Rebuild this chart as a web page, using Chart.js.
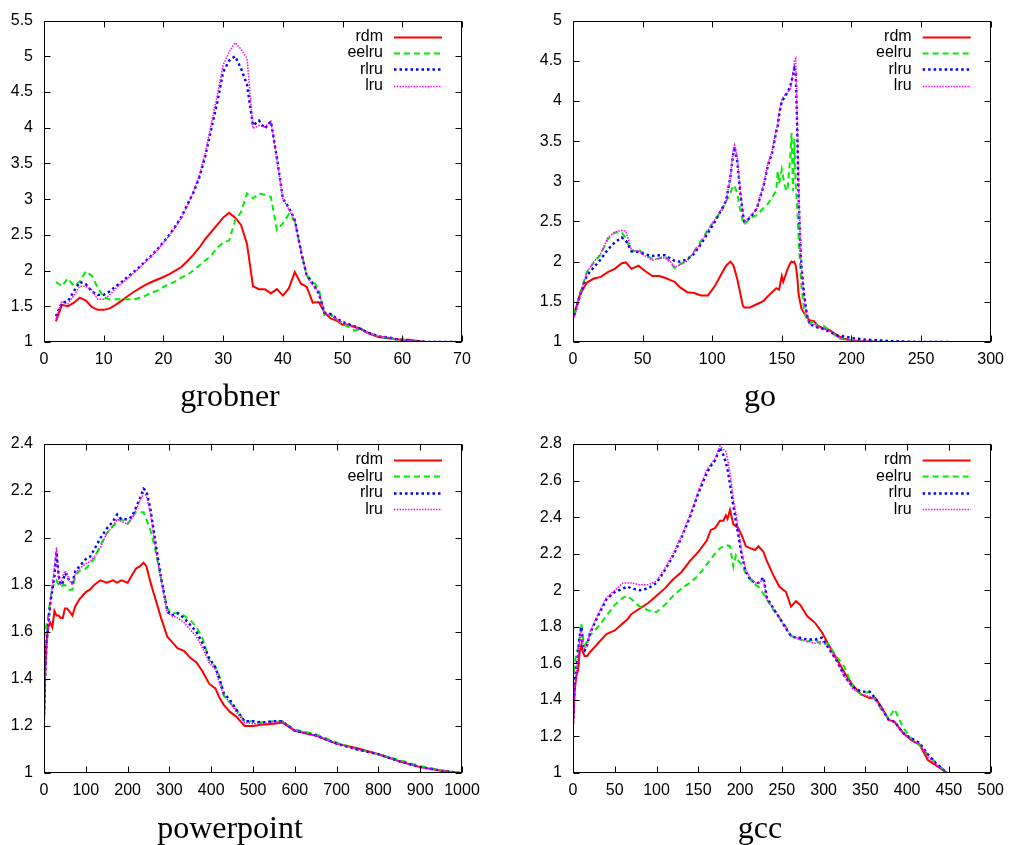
<!DOCTYPE html>
<html>
<head>
<meta charset="utf-8">
<script src="https://cdn.jsdelivr.net/npm/chart.js@4.4.1/dist/chart.umd.min.js"></script>
<style>
  html, body { margin: 0; padding: 0; background: #fff; }
  body { width: 1012px; height: 845px; position: relative; overflow: hidden; }
  canvas { position: absolute; }
</style>
</head>
<body>
<canvas id="grobner" width="500" height="420" style="left:0;top:0"></canvas>
<canvas id="go" width="512" height="420" style="left:500px;top:0"></canvas>
<canvas id="powerpoint" width="500" height="425" style="left:0;top:420px"></canvas>
<canvas id="gcc" width="512" height="425" style="left:500px;top:420px"></canvas>
<script>
// Series names, shared by all four panels
const seriesNames = ['rdm', 'eelru', 'rlru', 'lru'];

// grobner
const grobnerX = [2,3,4,5,6,7,8,9,10,11,12,13,14,15,16,17,18,19,20,21,22,23,24,25,26,27,28,29,30,31,32,33,34,35,36,37,38,39,40,41,42,43,44,45,46,47,48,49,50,51,52,53,54,55,56,57,58,59,60,61,62,63,64,65,66,67,68,69];
const grobnerRdm = [1.29,1.52,1.50,1.55,1.62,1.58,1.49,1.45,1.45,1.47, 1.52,1.58,1.64,1.70,1.75,1.80,1.84,1.875,1.91,1.95, 2.00,2.05,2.13,2.22,2.32,2.44,2.54,2.64,2.74,2.81, 2.74,2.64,2.37,1.78,1.74,1.74,1.68,1.74,1.65,1.75, 1.98,1.82,1.77,1.55,1.56,1.41,1.33,1.30,1.24,1.24, 1.21,1.19,1.14,1.10,1.07,1.06,1.05,1.04,1.03,1.03, 1.02,1.01,1.0,1.0,1.0,1.0,1.0,1.0];
const grobnerEelru = [1.84,1.78,1.89,1.78,1.85,1.99,1.93,1.76,1.62,1.60, 1.60,1.60,1.60,1.59,1.62,1.65,1.69,1.72,1.77,1.81, 1.85,1.90,1.94,2.00,2.07,2.14,2.21,2.32,2.39,2.42, 2.70,2.82,3.08,3.01,3.08,3.06,3.03,2.57,2.66,2.79, 2.69,2.30,1.93,1.85,1.75,1.36,1.39,1.32,1.25,1.21, 1.16,1.18,1.14,1.11,1.08,1.06,1.05,1.03,1.04,1.02, 1.01,1.0,1.0,1.0,1.0,1.0,1.0,1.0];
const grobnerRlru = [1.36,1.55,1.57,1.71,1.84,1.81,1.71,1.66,1.66,1.71, 1.78,1.84,1.91,1.98,2.05,2.13,2.21,2.30,2.40,2.50, 2.62,2.75,2.92,3.09,3.30,3.60,3.98,4.35,4.78,4.94, 5.00,4.83,4.60,4.03,4.10,3.99,4.09,3.58,3.01,2.88, 2.71,2.28,1.93,1.82,1.68,1.41,1.39,1.33,1.28,1.25, 1.22,1.18,1.14,1.11,1.08,1.07,1.06,1.04,1.03,1.02, 1.01,1.01,1.0,1.0,1.0,1.0,1.0,1.0];
const grobnerLru = [1.32,1.57,1.53,1.65,1.78,1.78,1.73,1.60,1.60,1.66, 1.75,1.82,1.89,1.96,2.04,2.12,2.20,2.29,2.39,2.49, 2.61,2.74,2.91,3.10,3.33,3.65,4.05,4.45,4.88,5.06, 5.19,5.10,4.97,3.99,4.03,4.01,4.09,3.55,3.00,2.86, 2.70,2.27,1.92,1.80,1.70,1.40,1.38,1.32,1.27,1.24, 1.21,1.17,1.13,1.10,1.08,1.07,1.06,1.04,1.03,1.02, 1.01,1.0,1.0,1.0,1.0,1.0,1.0,1.0];

// go
const goX = [1,5,10,15,20,25,30,35,38,42,47,52,57,62,66,70,73,77,82,87,92,97,102,107,110,113,115,116,118,120,122,123,127,132,137,140,143,146,147,148,150,151,152,153,154,156,157,158,159,160,161,162,163,164,166,168,170,173,176,180,185,190,195,200,210,220,230,250,270];
const goRdm = [1.36,1.59,1.74,1.79,1.81,1.87,1.91,1.98,1.99,1.91,1.95,1.88,1.82,1.82,1.80,1.77,1.75,1.68,1.62,1.61,1.58,1.58,1.70,1.86,1.95,2.00,1.96,1.91,1.78,1.62,1.45,1.43,1.43,1.47,1.51,1.57,1.62,1.67,1.66,1.65,1.82,1.75,1.80,1.85,1.90,1.98,2.00,1.99,2.00,1.95,1.83,1.60,1.51,1.42,1.36,1.31,1.27,1.26,1.20,1.17,1.14,1.08,1.04,1.02,1.01,1.0,1.0,1.0,1.0];
const goEelru = [1.35,1.60,1.87,1.99,2.09,2.28,2.36,2.37,2.28,2.12,2.15,2.09,2.03,2.04,2.07,1.99,1.92,1.97,2.01,2.13,2.26,2.40,2.52,2.64,2.75,2.85,2.95,2.94,2.85,2.65,2.50,2.46,2.54,2.58,2.67,2.72,2.80,2.88,3.13,2.97,3.15,3.05,2.95,2.90,2.88,3.29,3.60,2.88,3.53,2.95,2.70,2.32,2.00,1.71,1.38,1.28,1.23,1.26,1.18,1.20,1.14,1.05,1.03,1.02,1.01,1.005,1.0,1.0,1.0];
const goRlru = [1.33,1.58,1.83,1.93,2.03,2.15,2.24,2.30,2.26,2.13,2.12,2.09,2.07,2.08,2.08,2.04,2.01,2.00,2.03,2.10,2.22,2.36,2.50,2.66,2.76,3.05,3.33,3.43,3.25,2.88,2.60,2.50,2.54,2.66,2.95,3.20,3.35,3.62,3.68,3.82,4.00,4.02,4.05,4.08,4.10,4.18,4.25,4.32,4.40,4.34,3.70,2.85,2.35,1.95,1.59,1.34,1.22,1.20,1.18,1.16,1.12,1.08,1.07,1.05,1.03,1.02,1.01,1.0,1.0];
const goLru = [1.30,1.58,1.87,2.00,2.10,2.30,2.37,2.39,2.38,2.15,2.13,2.07,2.02,2.04,2.05,2.00,1.93,1.96,2.01,2.12,2.24,2.39,2.53,2.66,2.76,3.05,3.38,3.45,3.30,2.92,2.60,2.50,2.56,2.66,2.97,3.22,3.38,3.65,3.70,3.85,4.02,4.05,4.07,4.08,4.10,4.15,4.22,4.35,4.50,4.53,3.80,2.95,2.40,1.95,1.55,1.32,1.22,1.22,1.18,1.17,1.13,1.06,1.03,1.02,1.01,1.005,1.0,1.0,1.0];

// powerpoint
const pptX = [0,3,6,10,15,20,25,30,35,40,45,50,55,60,68,75,85,100,110,120,135,150,165,175,185,200,210,220,230,238,245,255,265,280,295,305,320,335,350,365,380,395,410,420,430,445,460,480,500,520,550,570,600,650,700,750,800,850,900,950,995];
const pptRdm = [1.20,1.45,1.56,1.62,1.64,1.62,1.69,1.67,1.67,1.66,1.66,1.70,1.70,1.69,1.67,1.71,1.74,1.77,1.78,1.80,1.82,1.81,1.82,1.81,1.82,1.81,1.84,1.87,1.88,1.895,1.88,1.81,1.75,1.66,1.58,1.56,1.53,1.52,1.49,1.47,1.43,1.38,1.36,1.32,1.29,1.26,1.24,1.20,1.20,1.205,1.21,1.215,1.18,1.16,1.125,1.105,1.08,1.05,1.025,1.01,1.0];
const pptEelru = [1.57,1.60,1.63,1.67,1.74,1.79,1.81,1.82,1.80,1.79,1.80,1.80,1.79,1.78,1.78,1.84,1.86,1.87,1.89,1.91,1.97,2.02,2.05,2.07,2.08,2.06,2.085,2.11,2.11,2.11,2.08,2.03,1.96,1.83,1.70,1.68,1.68,1.67,1.65,1.62,1.57,1.48,1.45,1.41,1.33,1.30,1.27,1.22,1.22,1.215,1.22,1.22,1.185,1.165,1.13,1.10,1.08,1.055,1.03,1.012,1.0];
const pptRlru = [1.25,1.42,1.55,1.63,1.72,1.78,1.84,1.94,1.84,1.80,1.81,1.85,1.84,1.82,1.81,1.86,1.88,1.91,1.92,1.95,2.00,2.04,2.07,2.10,2.08,2.08,2.09,2.13,2.17,2.21,2.20,2.12,2.00,1.83,1.69,1.67,1.68,1.66,1.63,1.60,1.55,1.49,1.45,1.40,1.34,1.31,1.27,1.22,1.22,1.215,1.22,1.22,1.18,1.16,1.125,1.10,1.08,1.05,1.025,1.01,1.0];
const pptLru = [1.20,1.40,1.52,1.62,1.72,1.80,1.88,1.96,1.82,1.80,1.84,1.86,1.85,1.82,1.80,1.85,1.87,1.89,1.90,1.92,1.96,2.02,2.05,2.08,2.07,2.06,2.08,2.12,2.16,2.19,2.18,2.10,1.98,1.82,1.68,1.67,1.66,1.64,1.61,1.58,1.53,1.47,1.44,1.38,1.33,1.30,1.26,1.215,1.21,1.21,1.215,1.22,1.18,1.16,1.125,1.10,1.08,1.05,1.025,1.01,1.0];

// gcc
const gccX = [0,2,4,6,8,10,12,14,17,20,30,40,50,60,65,70,80,90,100,110,120,130,140,150,160,165,170,176,180,183,185,188,192,195,198,202,207,212,218,222,228,232,240,247,255,261,267,272,280,290,298,305,315,325,335,345,355,362,370,378,385,395,405,415,425,435,448];
const gccRdm = [1.25,1.45,1.53,1.56,1.66,1.70,1.66,1.64,1.64,1.66,1.71,1.76,1.78,1.82,1.84,1.87,1.90,1.93,1.97,2.01,2.06,2.10,2.16,2.21,2.27,2.33,2.34,2.38,2.38,2.41,2.39,2.44,2.36,2.35,2.34,2.30,2.24,2.23,2.22,2.24,2.21,2.16,2.08,2.02,1.99,1.91,1.94,1.92,1.86,1.82,1.77,1.71,1.63,1.55,1.48,1.43,1.41,1.41,1.355,1.29,1.28,1.22,1.18,1.155,1.07,1.04,1.0];
const gccEelru = [1.50,1.60,1.66,1.68,1.74,1.82,1.74,1.70,1.72,1.75,1.80,1.86,1.92,1.96,1.97,1.95,1.91,1.89,1.88,1.92,1.97,2.01,2.04,2.08,2.14,2.17,2.20,2.23,2.24,2.24,2.245,2.24,2.13,2.19,2.16,2.14,2.09,2.06,2.03,2.02,1.98,1.95,1.89,1.85,1.80,1.75,1.74,1.73,1.72,1.73,1.70,1.71,1.64,1.58,1.47,1.43,1.445,1.40,1.34,1.30,1.35,1.25,1.19,1.15,1.10,1.055,1.0];
const gccRlru = [1.27,1.50,1.58,1.65,1.75,1.80,1.68,1.67,1.70,1.76,1.86,1.95,1.99,2.01,2.02,2.01,2.00,2.01,2.04,2.11,2.19,2.29,2.40,2.53,2.64,2.68,2.71,2.78,2.74,2.70,2.66,2.58,2.46,2.38,2.30,2.19,2.10,2.06,2.04,2.04,2.07,1.96,1.90,1.85,1.79,1.75,1.74,1.74,1.73,1.73,1.74,1.69,1.62,1.53,1.47,1.445,1.445,1.41,1.35,1.29,1.28,1.22,1.19,1.165,1.10,1.05,1.0];
const gccLru = [1.25,1.45,1.55,1.63,1.72,1.78,1.69,1.68,1.70,1.77,1.87,1.96,2.00,2.04,2.04,2.04,2.03,2.03,2.05,2.12,2.20,2.30,2.41,2.54,2.66,2.69,2.72,2.79,2.77,2.76,2.72,2.64,2.50,2.42,2.33,2.21,2.11,2.07,2.04,2.04,2.06,1.95,1.90,1.85,1.79,1.75,1.74,1.73,1.72,1.71,1.72,1.70,1.62,1.53,1.46,1.43,1.42,1.40,1.35,1.29,1.28,1.22,1.18,1.16,1.09,1.045,1.0];

// line styles in gnuplot order
const lineStyles = [
  { color: '#ff0000', width: 2,   dash: [] },
  { color: '#00ee00', width: 2,   dash: [6, 4] },
  { color: '#0000ff', width: 2.4, dash: [2.5, 3] },
  { color: '#ff00ff', width: 1.5, dash: [1.5, 1.3] }
];

const tickFont = { family: "'Liberation Sans', Arial, sans-serif", size: 16 };

// gnuplot-like frame, inward ticks, key and caption
const gnuFrame = {
  id: 'gnuFrame',
  afterDraw(chart, args, opts) {
    const ctx = chart.ctx;
    const a = chart.chartArea;
    const L = Math.round(a.left) + 0.5, R = Math.round(a.right) - 0.5;
    const T = Math.round(a.top) + 0.5, B = Math.round(a.bottom) - 0.5;
    ctx.save();
    ctx.strokeStyle = '#000';
    ctx.lineWidth = 1;
    ctx.setLineDash([]);
    ctx.strokeRect(L, T, R - L, B - T);
    ctx.beginPath();
    chart.scales.x.ticks.forEach(t => {
      const px = Math.round(chart.scales.x.getPixelForValue(t.value)) + 0.5;
      ctx.moveTo(px, B); ctx.lineTo(px, B - 6);
      ctx.moveTo(px, T); ctx.lineTo(px, T + 6);
    });
    chart.scales.y.ticks.forEach(t => {
      const py = Math.round(chart.scales.y.getPixelForValue(t.value)) + 0.5;
      ctx.moveTo(L, py); ctx.lineTo(L + 6, py);
      ctx.moveTo(R, py); ctx.lineTo(R - 6, py);
    });
    ctx.stroke();

    // key
    ctx.font = "16px 'Liberation Sans', Arial, sans-serif";
    ctx.fillStyle = '#000';
    ctx.textAlign = 'right';
    ctx.textBaseline = 'middle';
    seriesNames.forEach((name, i) => {
      const y = a.top + 16 + i * 16.4;
      ctx.fillText(name, a.right - 79, y);
      const st = lineStyles[i];
      ctx.strokeStyle = st.color;
      ctx.lineWidth = st.width;
      ctx.setLineDash(st.dash);
      ctx.beginPath();
      ctx.moveTo(a.right - 68, Math.round(y) + 0.5);
      ctx.lineTo(a.right - 20, Math.round(y) + 0.5);
      ctx.stroke();
    });
    ctx.setLineDash([]);

    // caption
    ctx.font = "32px 'Liberation Serif', 'DejaVu Serif', serif";
    ctx.textAlign = 'center';
    ctx.textBaseline = 'alphabetic';
    ctx.fillText(opts.caption, opts.captionX, opts.captionY);
    ctx.restore();
  }
};

function roundLabel(v) {
  return String(Math.round(v * 100) / 100);
}

function makePanel(id, cfg) {
  const datasets = cfg.series.map((vals, i) => ({
    label: seriesNames[i],
    data: cfg.xs.map((x, j) => ({ x: x, y: vals[j] })),
    borderColor: lineStyles[i].color,
    borderWidth: lineStyles[i].width,
    borderDash: lineStyles[i].dash,
    pointRadius: 0,
    tension: 0,
    fill: false,
    order: 3 - i
  }));
  return new Chart(document.getElementById(id), {
    type: 'line',
    data: { datasets: datasets },
    options: {
      responsive: false,
      animation: false,
      devicePixelRatio: 1,
      layout: { padding: { left: 0, right: cfg.padRight, top: cfg.padTop, bottom: 0 } },
      plugins: {
        legend: { display: false },
        tooltip: { enabled: false },
        gnuFrame: { caption: id, captionX: cfg.captionX, captionY: cfg.captionY }
      },
      scales: {
        x: {
          type: 'linear',
          min: cfg.xMin, max: cfg.xMax,
          grid: { display: false, drawTicks: false },
          border: { display: false },
          ticks: { stepSize: cfg.xStep, font: tickFont, color: '#000', padding: 8, maxRotation: 0, autoSkip: false, callback: roundLabel },
          afterFit(scale) { scale.height = cfg.xHeight; }
        },
        y: {
          min: cfg.yMin, max: cfg.yMax,
          grid: { display: false, drawTicks: false },
          border: { display: false },
          ticks: { stepSize: cfg.yStep, font: tickFont, color: '#000', padding: 11, autoSkip: false, callback: roundLabel },
          afterFit(scale) { scale.width = cfg.yWidth; }
        }
      }
    },
    plugins: [gnuFrame]
  });
}

makePanel('grobner', {
  xs: grobnerX, series: [grobnerRdm, grobnerEelru, grobnerRlru, grobnerLru],
  xMin: 0, xMax: 70, xStep: 10, yMin: 1, yMax: 5.5, yStep: 0.5,
  yWidth: 44, xHeight: 78, padRight: 38, padTop: 13, captionX: 230, captionY: 406
});
makePanel('go', {
  xs: goX, series: [goRdm, goEelru, goRlru, goLru],
  xMin: 0, xMax: 300, xStep: 50, yMin: 1, yMax: 5, yStep: 0.5,
  yWidth: 73, xHeight: 78, padRight: 20, padTop: 13, captionX: 260, captionY: 406
});
makePanel('powerpoint', {
  xs: pptX, series: [pptRdm, pptEelru, pptRlru, pptLru],
  xMin: 0, xMax: 1000, xStep: 100, yMin: 1, yMax: 2.4, yStep: 0.2,
  yWidth: 44, xHeight: 72, padRight: 38, padTop: 24, captionX: 230, captionY: 418
});
makePanel('gcc', {
  xs: gccX, series: [gccRdm, gccEelru, gccRlru, gccLru],
  xMin: 0, xMax: 500, xStep: 50, yMin: 1, yMax: 2.8, yStep: 0.2,
  yWidth: 73, xHeight: 72, padRight: 21, padTop: 24, captionX: 260, captionY: 418
});
</script>
</body>
</html>
